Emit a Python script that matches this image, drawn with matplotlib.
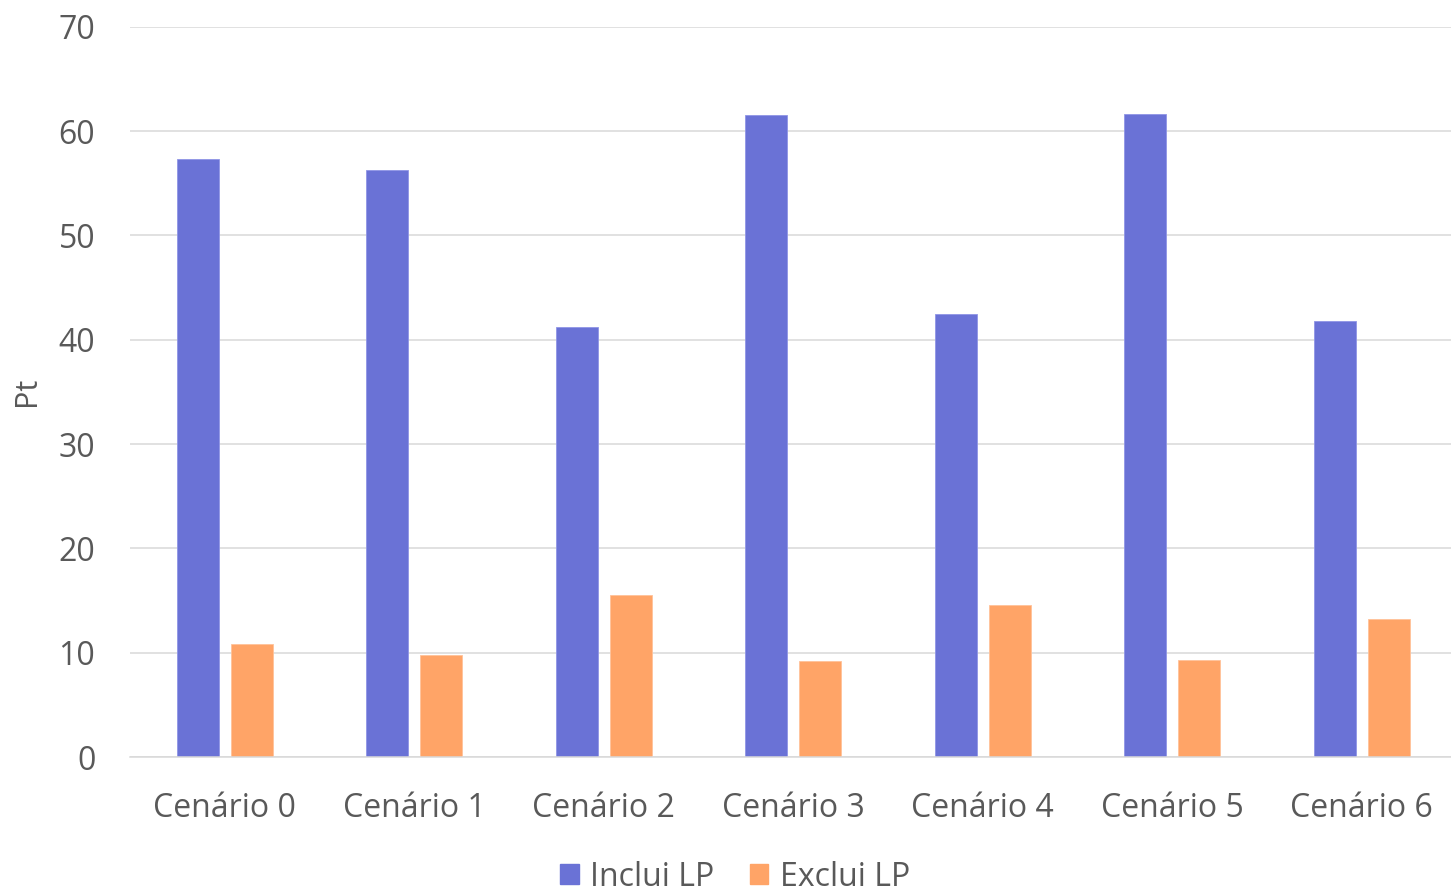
import numpy as np
import matplotlib
matplotlib.use("Agg")
import matplotlib.pyplot as plt
from matplotlib.patches import Rectangle

#------------------------------------ chart data
cenarios = ["Cenário 0", "Cenário 1", "Cenário 2", "Cenário 3",
            "Cenário 4", "Cenário 5", "Cenário 6"]
inclui_lp = [57.3, 56.3, 41.2, 61.5, 42.5, 61.6, 41.8]
exclui_lp = [10.8, 9.8, 15.5, 9.2, 14.6, 9.3, 13.2]
series_names = ["Inclui LP", "Exclui LP"]
yticks = [0, 10, 20, 30, 40, 50, 60, 70]

#------------------------------------ style
plt.rcParams["font.family"] = ["Open Sans", "DejaVu Sans"]
txt_col = "#595959"
grid_col = "#D9D9D9"
c_blue = "#6A72D6"
c_orng = "#FFA467"
fsize = 23

fig = plt.figure(figsize=(14.51, 8.93), dpi=100)
# plot area runs a little past the right edge, as in the source image
axi = fig.add_axes([130/1451, 1-757/893, 1326.5/1451, (757-26.7)/893])

xpos = np.arange(len(cenarios))
wbar = 0.222
off = 0.1415

axi.bar(xpos - off, inclui_lp, wbar, color=c_blue,
        edgecolor="#8F95E6", linewidth=0.6, zorder=3)
axi.bar(xpos + off, exclui_lp, wbar, color=c_orng,
        edgecolor="#FFC29A", linewidth=0.6, zorder=3)

axi.set_xlim(-0.5, len(cenarios) - 0.5)
axi.set_ylim(0, 70)
axi.set_yticks(yticks)
axi.set_xticks(xpos)
axi.set_xticklabels(cenarios)

axi.yaxis.grid(True, color=grid_col, linewidth=1.1, zorder=0)
axi.set_axisbelow(True)
for side in ["top", "right", "left"]:
    axi.spines[side].set_visible(False)
axi.spines["bottom"].set_color(grid_col)
axi.spines["bottom"].set_linewidth(1.1)
axi.spines["bottom"].set_zorder(4)

axi.tick_params(axis="y", length=0, pad=25, labelsize=fsize,
                labelcolor=txt_col)
axi.tick_params(axis="x", length=0, pad=25, labelsize=fsize,
                labelcolor=txt_col)

axi.set_ylabel("Pt", fontsize=fsize-1, color=txt_col)
axi.yaxis.set_label_coords((42-130)/1326.5, 0.5)

#------------------------------------ legend
hnds = [Rectangle((0, 0), 1, 1, color=c_blue),
        Rectangle((0, 0), 1, 1, color=c_orng)]
fig.legend(hnds, series_names, loc="center",
           bbox_to_anchor=(735/1451, 1-877/893), ncol=2,
           frameon=False, fontsize=fsize, labelcolor=txt_col,
           handlelength=0.58, handleheight=0.58, handletextpad=0.36,
           columnspacing=1.1, borderpad=0, borderaxespad=0)

fig.savefig("out.png", dpi=100)
